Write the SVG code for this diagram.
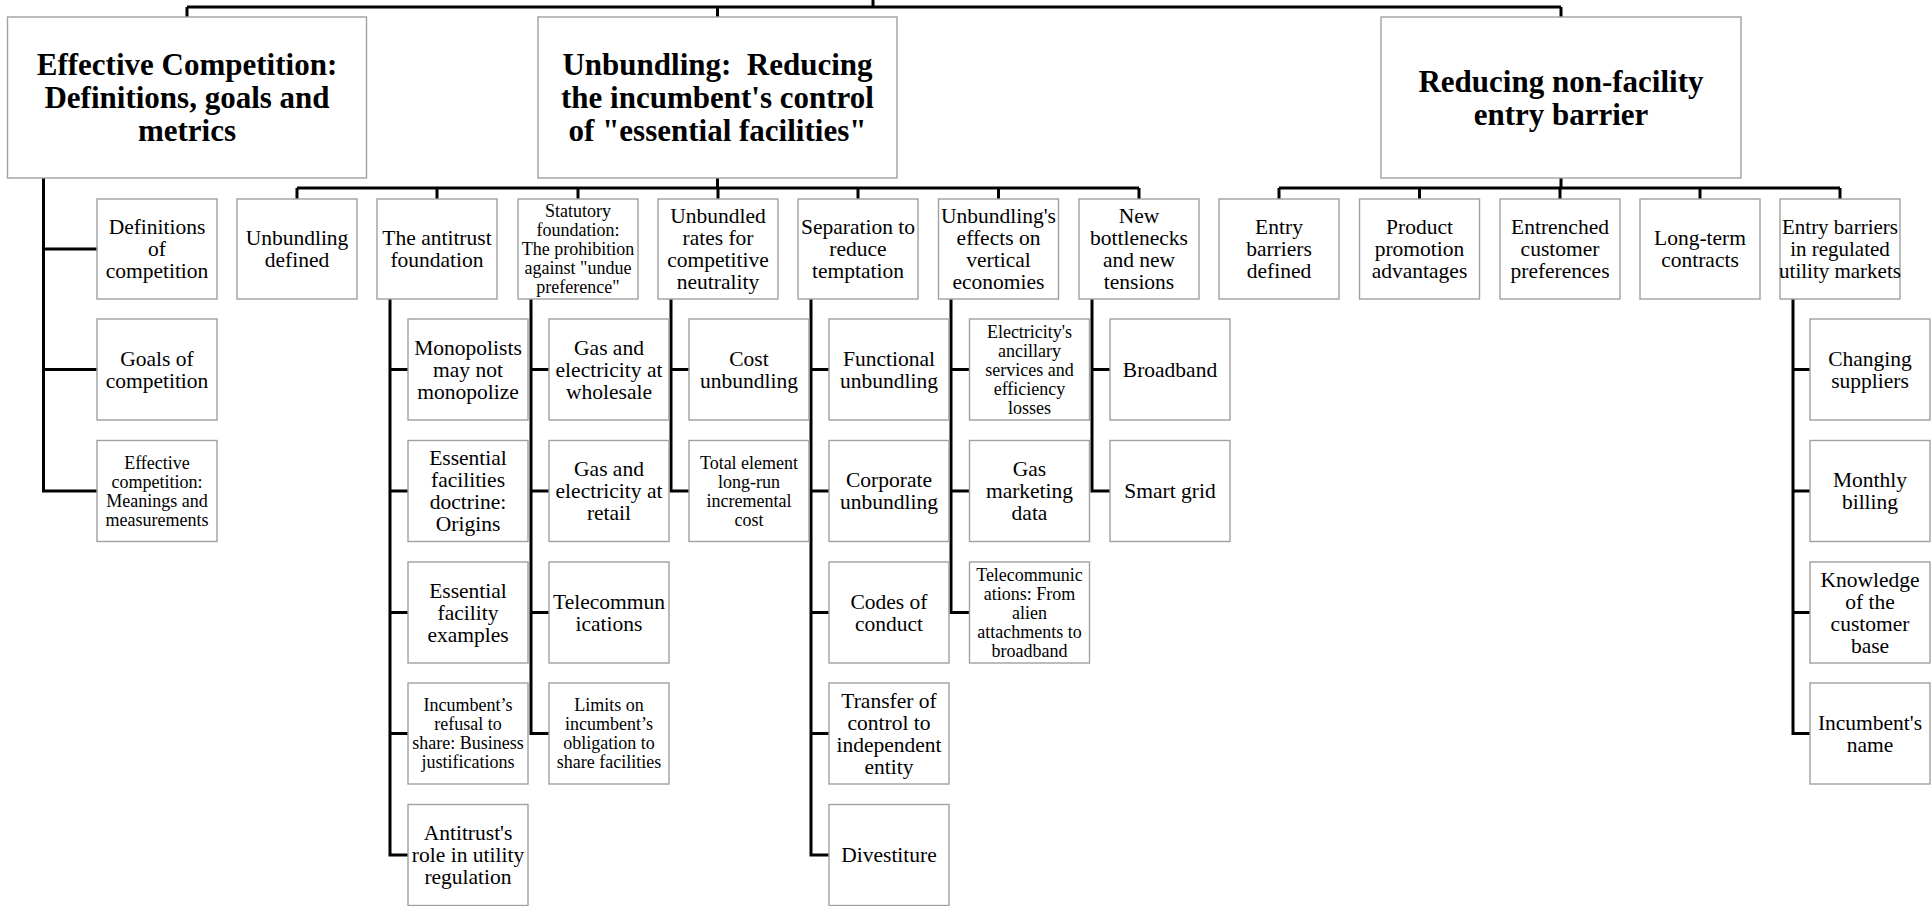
<svg xmlns="http://www.w3.org/2000/svg" width="1932" height="906" viewBox="0 0 1932 906">
<style>
.bx{fill:#fff;stroke:#a0a0a0;stroke-width:1.4}
.h{font-family:'Liberation Serif',serif;font-weight:bold;font-size:31px;text-anchor:middle;fill:#000}
.t{font-family:'Liberation Serif',serif;font-size:21.5px;text-anchor:middle;fill:#000}
.s{font-family:'Liberation Serif',serif;font-size:18px;text-anchor:middle;fill:#000}
.c{fill:none;stroke:#000;stroke-width:3;stroke-linejoin:miter;stroke-linecap:butt}
</style>
<rect width="1932" height="906" fill="#fff"/>
<g id="connectors" class="c">
<path d="M873 0V7M187 7H1561M187 7V17M717.5 7V17M1561 7V17"/>
<path d="M43.5 178V491H97M43.5 249H97M43.5 369.5H97"/>
<path d="M717.5 178V188M297 188H1139M297 188V199M437 188V199M578 188V199M718 188V199M858 188V199M998.5 188V199M1139 188V199"/>
<path d="M1561 178V188M1279 188H1840M1279 188V199M1419.5 188V199M1560 188V199M1700 188V199M1840 188V199"/>
<path d="M390 299V855H408M390 369.5H408M390 491H408M390 612.5H408M390 733.5H408"/>
<path d="M531 299V733.5H549M531 369.5H549M531 491H549M531 612.5H549"/>
<path d="M671 299V491H689M671 369.5H689"/>
<path d="M811 299V855H829M811 369.5H829M811 491H829M811 612.5H829M811 733.5H829"/>
<path d="M951 299V612.5H969.5M951 369.5H969.5M951 491H969.5"/>
<path d="M1092 299V491H1110M1092 369.5H1110"/>
<path d="M1793 299V733.5H1810M1793 369.5H1810M1793 491H1810M1793 612.5H1810"/>
</g>
<g font-family="'Liberation Serif', serif">
<g id="n-effective">
<rect class="bx" x="7.5" y="17" width="359" height="161"/>
<text class="h"><tspan x="187" y="75">Effective Competition:</tspan><tspan x="187" y="108">Definitions, goals and</tspan><tspan x="187" y="141">metrics</tspan></text>
</g>
<g id="n-unbundling">
<rect class="bx" x="538" y="17" width="359" height="161"/>
<text class="h" xml:space="preserve"><tspan x="717.5" y="75">Unbundling:  Reducing</tspan><tspan x="717.5" y="108">the incumbent's control</tspan><tspan x="717.5" y="141">of "essential facilities"</tspan></text>
</g>
<g id="n-nonfacility">
<rect class="bx" x="1381" y="17" width="360" height="161"/>
<text class="h"><tspan x="1561" y="91.5">Reducing non-facility</tspan><tspan x="1561" y="124.5">entry barrier</tspan></text>
</g>
<g id="n-defs">
<rect class="bx" x="97" y="199" width="120" height="100"/>
<text class="t"><tspan x="157" y="234">Definitions</tspan><tspan x="157" y="256">of</tspan><tspan x="157" y="278">competition</tspan></text>
</g>
<g id="n-goals">
<rect class="bx" x="97" y="319" width="120" height="101"/>
<text class="t"><tspan x="157" y="365.5">Goals of</tspan><tspan x="157" y="387.5">competition</tspan></text>
</g>
<g id="n-effmeas">
<rect class="bx" x="97" y="440.5" width="120" height="101"/>
<text class="s"><tspan x="157" y="468.5">Effective</tspan><tspan x="157" y="487.5">competition:</tspan><tspan x="157" y="506.5">Meanings and</tspan><tspan x="157" y="525.5">measurements</tspan></text>
</g>
<g id="n-unb-defined">
<rect class="bx" x="237" y="199" width="120" height="100"/>
<text class="t"><tspan x="297" y="245">Unbundling</tspan><tspan x="297" y="267">defined</tspan></text>
</g>
<g id="n-antitrust">
<rect class="bx" x="377" y="199" width="120" height="100"/>
<text class="t"><tspan x="437" y="245">The antitrust</tspan><tspan x="437" y="267">foundation</tspan></text>
</g>
<g id="n-statutory">
<rect class="bx" x="518" y="199" width="120" height="100"/>
<text class="s"><tspan x="578" y="217">Statutory</tspan><tspan x="578" y="236">foundation:</tspan><tspan x="578" y="255">The prohibition</tspan><tspan x="578" y="274">against "undue</tspan><tspan x="578" y="293">preference"</tspan></text>
</g>
<g id="n-rates">
<rect class="bx" x="658" y="199" width="120" height="100"/>
<text class="t"><tspan x="718" y="223">Unbundled</tspan><tspan x="718" y="245">rates for</tspan><tspan x="718" y="267">competitive</tspan><tspan x="718" y="289">neutrality</tspan></text>
</g>
<g id="n-separation">
<rect class="bx" x="798" y="199" width="120" height="100"/>
<text class="t"><tspan x="858" y="234">Separation to</tspan><tspan x="858" y="256">reduce</tspan><tspan x="858" y="278">temptation</tspan></text>
</g>
<g id="n-effects">
<rect class="bx" x="938.5" y="199" width="120" height="100"/>
<text class="t"><tspan x="998.5" y="223">Unbundling's</tspan><tspan x="998.5" y="245">effects on</tspan><tspan x="998.5" y="267">vertical</tspan><tspan x="998.5" y="289">economies</tspan></text>
</g>
<g id="n-bottlenecks">
<rect class="bx" x="1079" y="199" width="120" height="100"/>
<text class="t"><tspan x="1139" y="223">New</tspan><tspan x="1139" y="245">bottlenecks</tspan><tspan x="1139" y="267">and new</tspan><tspan x="1139" y="289">tensions</tspan></text>
</g>
<g id="n-eb-defined">
<rect class="bx" x="1219" y="199" width="120" height="100"/>
<text class="t"><tspan x="1279" y="234">Entry</tspan><tspan x="1279" y="256">barriers</tspan><tspan x="1279" y="278">defined</tspan></text>
</g>
<g id="n-promotion">
<rect class="bx" x="1359.5" y="199" width="120" height="100"/>
<text class="t"><tspan x="1419.5" y="234">Product</tspan><tspan x="1419.5" y="256">promotion</tspan><tspan x="1419.5" y="278">advantages</tspan></text>
</g>
<g id="n-entrenched">
<rect class="bx" x="1500" y="199" width="120" height="100"/>
<text class="t"><tspan x="1560" y="234">Entrenched</tspan><tspan x="1560" y="256">customer</tspan><tspan x="1560" y="278">preferences</tspan></text>
</g>
<g id="n-longterm">
<rect class="bx" x="1640" y="199" width="120" height="100"/>
<text class="t"><tspan x="1700" y="245">Long-term</tspan><tspan x="1700" y="267">contracts</tspan></text>
</g>
<g id="n-regulated">
<rect class="bx" x="1780" y="199" width="120" height="100"/>
<text class="t" style="font-size:21px"><tspan x="1840" y="234">Entry barriers</tspan><tspan x="1840" y="256">in regulated</tspan><tspan x="1840" y="278">utility markets</tspan></text>
</g>
<g id="n-monopolists">
<rect class="bx" x="408" y="319" width="120" height="101"/>
<text class="t"><tspan x="468" y="354.5">Monopolists</tspan><tspan x="468" y="376.5">may not</tspan><tspan x="468" y="398.5">monopolize</tspan></text>
</g>
<g id="n-origins">
<rect class="bx" x="408" y="440.5" width="120" height="101"/>
<text class="t"><tspan x="468" y="465">Essential</tspan><tspan x="468" y="487">facilities</tspan><tspan x="468" y="509">doctrine:</tspan><tspan x="468" y="531">Origins</tspan></text>
</g>
<g id="n-examples">
<rect class="bx" x="408" y="562" width="120" height="101"/>
<text class="t"><tspan x="468" y="597.5">Essential</tspan><tspan x="468" y="619.5">facility</tspan><tspan x="468" y="641.5">examples</tspan></text>
</g>
<g id="n-refusal">
<rect class="bx" x="408" y="683" width="120" height="101"/>
<text class="s"><tspan x="468" y="711">Incumbent’s</tspan><tspan x="468" y="730">refusal to</tspan><tspan x="468" y="749">share: Business</tspan><tspan x="468" y="768">justifications</tspan></text>
</g>
<g id="n-role">
<rect class="bx" x="408" y="804.5" width="120" height="101"/>
<text class="t"><tspan x="468" y="840">Antitrust's</tspan><tspan x="468" y="862">role in utility</tspan><tspan x="468" y="884">regulation</tspan></text>
</g>
<g id="n-wholesale">
<rect class="bx" x="549" y="319" width="120" height="101"/>
<text class="t"><tspan x="609" y="354.5">Gas and</tspan><tspan x="609" y="376.5">electricity at</tspan><tspan x="609" y="398.5">wholesale</tspan></text>
</g>
<g id="n-retail">
<rect class="bx" x="549" y="440.5" width="120" height="101"/>
<text class="t"><tspan x="609" y="476">Gas and</tspan><tspan x="609" y="498">electricity at</tspan><tspan x="609" y="520">retail</tspan></text>
</g>
<g id="n-telecom1">
<rect class="bx" x="549" y="562" width="120" height="101"/>
<text class="t"><tspan x="609" y="608.5">Telecommun</tspan><tspan x="609" y="630.5">ications</tspan></text>
</g>
<g id="n-limits">
<rect class="bx" x="549" y="683" width="120" height="101"/>
<text class="s"><tspan x="609" y="711">Limits on</tspan><tspan x="609" y="730">incumbent’s</tspan><tspan x="609" y="749">obligation to</tspan><tspan x="609" y="768">share facilities</tspan></text>
</g>
<g id="n-cost">
<rect class="bx" x="689" y="319" width="120" height="101"/>
<text class="t"><tspan x="749" y="365.5">Cost</tspan><tspan x="749" y="387.5">unbundling</tspan></text>
</g>
<g id="n-telric">
<rect class="bx" x="689" y="440.5" width="120" height="101"/>
<text class="s"><tspan x="749" y="468.5">Total element</tspan><tspan x="749" y="487.5">long-run</tspan><tspan x="749" y="506.5">incremental</tspan><tspan x="749" y="525.5">cost</tspan></text>
</g>
<g id="n-functional">
<rect class="bx" x="829" y="319" width="120" height="101"/>
<text class="t"><tspan x="889" y="365.5">Functional</tspan><tspan x="889" y="387.5">unbundling</tspan></text>
</g>
<g id="n-corporate">
<rect class="bx" x="829" y="440.5" width="120" height="101"/>
<text class="t"><tspan x="889" y="487">Corporate</tspan><tspan x="889" y="509">unbundling</tspan></text>
</g>
<g id="n-codes">
<rect class="bx" x="829" y="562" width="120" height="101"/>
<text class="t"><tspan x="889" y="608.5">Codes of</tspan><tspan x="889" y="630.5">conduct</tspan></text>
</g>
<g id="n-transfer">
<rect class="bx" x="829" y="683" width="120" height="101"/>
<text class="t"><tspan x="889" y="707.5">Transfer of</tspan><tspan x="889" y="729.5">control to</tspan><tspan x="889" y="751.5">independent</tspan><tspan x="889" y="773.5">entity</tspan></text>
</g>
<g id="n-divestiture">
<rect class="bx" x="829" y="804.5" width="120" height="101"/>
<text class="t"><tspan x="889" y="862">Divestiture</tspan></text>
</g>
<g id="n-ancillary">
<rect class="bx" x="969.5" y="319" width="120" height="101"/>
<text class="s"><tspan x="1029.5" y="337.5">Electricity's</tspan><tspan x="1029.5" y="356.5">ancillary</tspan><tspan x="1029.5" y="375.5">services and</tspan><tspan x="1029.5" y="394.5">efficiency</tspan><tspan x="1029.5" y="413.5">losses</tspan></text>
</g>
<g id="n-gasdata">
<rect class="bx" x="969.5" y="440.5" width="120" height="101"/>
<text class="t"><tspan x="1029.5" y="476">Gas</tspan><tspan x="1029.5" y="498">marketing</tspan><tspan x="1029.5" y="520">data</tspan></text>
</g>
<g id="n-telecom2">
<rect class="bx" x="969.5" y="562" width="120" height="101"/>
<text class="s"><tspan x="1029.5" y="580.5">Telecommunic</tspan><tspan x="1029.5" y="599.5">ations: From</tspan><tspan x="1029.5" y="618.5">alien</tspan><tspan x="1029.5" y="637.5">attachments to</tspan><tspan x="1029.5" y="656.5">broadband</tspan></text>
</g>
<g id="n-broadband">
<rect class="bx" x="1110" y="319" width="120" height="101"/>
<text class="t"><tspan x="1170" y="376.5">Broadband</tspan></text>
</g>
<g id="n-smartgrid">
<rect class="bx" x="1110" y="440.5" width="120" height="101"/>
<text class="t"><tspan x="1170" y="498">Smart grid</tspan></text>
</g>
<g id="n-changing">
<rect class="bx" x="1810" y="319" width="120" height="101"/>
<text class="t"><tspan x="1870" y="365.5">Changing</tspan><tspan x="1870" y="387.5">suppliers</tspan></text>
</g>
<g id="n-billing">
<rect class="bx" x="1810" y="440.5" width="120" height="101"/>
<text class="t"><tspan x="1870" y="487">Monthly</tspan><tspan x="1870" y="509">billing</tspan></text>
</g>
<g id="n-knowledge">
<rect class="bx" x="1810" y="562" width="120" height="101"/>
<text class="t"><tspan x="1870" y="586.5">Knowledge</tspan><tspan x="1870" y="608.5">of the</tspan><tspan x="1870" y="630.5">customer</tspan><tspan x="1870" y="652.5">base</tspan></text>
</g>
<g id="n-name">
<rect class="bx" x="1810" y="683" width="120" height="101"/>
<text class="t"><tspan x="1870" y="729.5">Incumbent's</tspan><tspan x="1870" y="751.5">name</tspan></text>
</g>
</g>
</svg>
